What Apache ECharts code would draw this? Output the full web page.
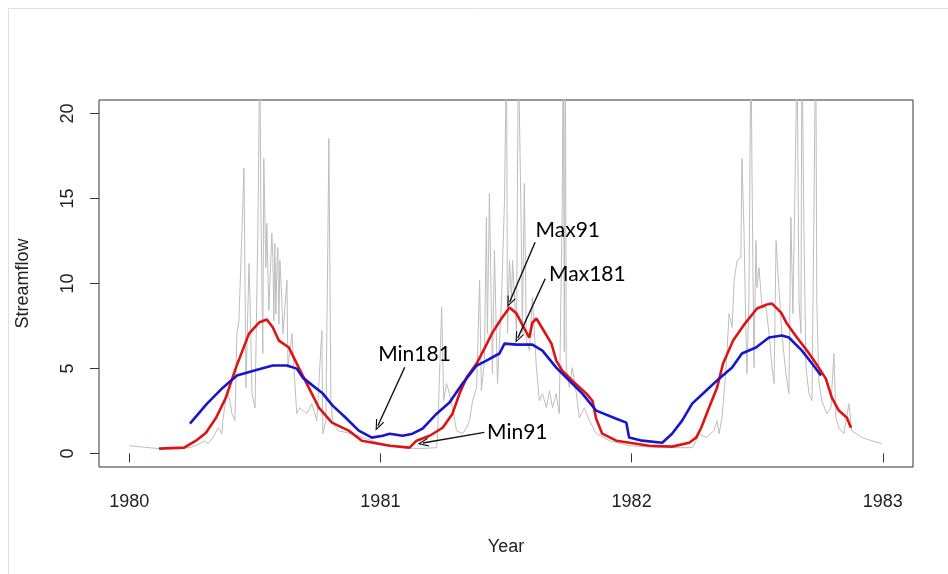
<!DOCTYPE html>
<html><head><meta charset="utf-8">
<script src="https://cdn.jsdelivr.net/npm/echarts@6/dist/echarts.min.js"></script>
<style>html,body{margin:0;padding:0;background:#fff}#c{width:948px;height:574px}</style>
</head><body><div id="c"></div>
<script>
// ---- data ----
var xTicks = [1980, 1981, 1982, 1983];
var yTicks = [0, 5, 10, 15, 20];

var greyYear = [
1980.000,1980.119,1980.242,1980.282,1980.302,1980.314,1980.334,1980.354,1980.369,1980.373,1980.389,1980.401,1980.409,1980.421,1980.429,1980.437,1980.453,1980.457,1980.465,1980.477,1980.481,1980.489,1980.501,1980.513,1980.520,1980.524,1980.532,1980.536,1980.544,1980.548,1980.556,1980.568,1980.572,1980.576,1980.580,1980.584,1980.588,1980.592,1980.596,1980.600,1980.608,1980.612,1980.628,1980.632,1980.648,1980.667,1980.679,1980.707,1980.727,1980.747,1980.767,1980.771,1980.783,1980.791,1980.795,1980.803,1980.810,1980.830,1980.886,1980.942,1980.993,
1981.089,1981.156,1981.224,1981.228,1981.244,1981.252,1981.263,1981.275,1981.287,1981.303,1981.327,1981.343,1981.355,1981.367,1981.383,1981.395,1981.402,1981.414,1981.422,1981.426,1981.434,1981.446,1981.454,1981.466,1981.482,1981.494,1981.502,1981.506,1981.514,1981.522,1981.526,1981.542,1981.549,1981.561,1981.565,1981.573,1981.581,1981.593,1981.605,1981.621,1981.633,1981.645,1981.661,1981.673,1981.685,1981.700,1981.712,1981.724,1981.728,1981.732,1981.736,1981.740,1981.752,1981.764,1981.780,1981.792,1981.812,1981.832,1981.859,1981.911,1981.990,
1982.122,1982.241,1982.257,1982.269,1982.296,1982.328,1982.340,1982.348,1982.360,1982.376,1982.388,1982.400,1982.408,1982.420,1982.435,1982.439,1982.447,1982.455,1982.459,1982.467,1982.475,1982.479,1982.487,1982.495,1982.499,1982.507,1982.519,1982.535,1982.547,1982.559,1982.567,1982.575,1982.586,1982.598,1982.614,1982.626,1982.634,1982.642,1982.654,1982.658,1982.666,1982.674,1982.678,1982.686,1982.694,1982.706,1982.718,1982.733,1982.737,1982.745,1982.757,1982.777,1982.793,1982.805,1982.813,1982.825,1982.845,1982.865,1982.876,1982.916,1982.996];
var greyFlow = [
0.45,0.28,0.34,0.57,0.75,0.57,0.93,1.51,1.16,1.93,3.69,3.10,2.34,1.93,7.05,7.82,14.89,16.78,3.87,11.18,9.18,3.52,2.69,13.71,24,14.89,5.88,17.36,10.94,13.54,8.41,12.95,11.53,7.8,12.36,8.2,10.94,12.12,7.6,11.36,9.00,7.05,10.18,5.05,7.05,2.34,2.69,2.34,2.93,1.93,7.23,1.16,1.93,12.53,18.54,3.10,1.93,1.34,1.16,0.87,0.63,
0.34,0.28,0.34,1.16,8.59,3.10,4.11,3.52,2.69,1.34,1.16,1.51,1.93,3.10,3.87,10.18,3.69,5.46,13.89,7.05,15.30,4.70,11.95,4.11,9.00,14.89,24,7.05,11.36,9.00,11.36,7.05,24,12.95,7.05,15.89,6.64,6.05,9.18,5.05,3.10,3.52,2.69,3.69,2.69,3.52,2.34,14.89,25,6.0,25,5.05,3.87,5.05,3.52,2.10,2.69,1.93,1.16,0.75,0.45,
0.34,0.34,0.75,1.16,0.93,1.34,1.93,1.16,2.10,5.05,8.23,7.41,10.18,11.36,11.53,17.36,13.30,7.05,4.70,9.00,25,16.66,5.05,12.53,9.77,10.94,8.59,8.59,7.05,5.05,4.11,12.53,9.77,7.05,4.70,3.52,13.89,8.23,19.19,25,9.00,7.05,25,12.95,5.05,3.52,3.10,25,9.00,4.28,3.10,2.34,2.69,5.88,2.10,1.51,1.16,2.93,1.34,0.93,0.57];

var redYear = [1980.119,1980.219,1980.266,1980.306,1980.346,1980.385,1980.425,1980.477,1980.517,1980.548,1980.572,1980.596,1980.636,1980.675,1980.715,1980.755,1980.807,1980.874,1980.926,1980.993,1981.037,1981.116,1981.144,1981.196,1981.248,1981.287,1981.315,1981.343,1981.383,1981.414,1981.446,1981.482,1981.514,1981.542,1981.573,1981.593,1981.605,1981.621,1981.645,1981.681,1981.700,1981.724,1981.764,1981.820,1981.844,1981.859,1981.883,1981.939,1982.018,1982.070,1982.161,1982.229,1982.257,1982.277,1982.308,1982.340,1982.364,1982.404,1982.451,1982.499,1982.539,1982.559,1982.595,1982.618,1982.658,1982.698,1982.734,1982.773,1982.797,1982.825,1982.857,1982.873];
var redFlow = [0.28,0.34,0.75,1.22,2.10,3.28,5.05,7.05,7.70,7.88,7.41,6.64,6.23,5.05,3.87,2.69,1.81,1.34,0.75,0.57,0.45,0.34,0.75,1.04,1.51,2.34,3.52,4.46,5.29,6.17,7.11,7.94,8.59,8.23,7.35,6.82,7.70,7.94,7.35,6.46,5.46,4.87,4.28,3.52,3.10,2.04,1.16,0.75,0.57,0.45,0.40,0.63,0.93,1.51,2.69,3.87,5.29,6.64,7.64,8.53,8.76,8.82,8.29,7.64,6.82,6.05,5.29,4.40,3.28,2.52,2.10,1.51];

var blueYear = [1980.242,1980.310,1980.373,1980.429,1980.509,1980.572,1980.628,1980.667,1980.691,1980.731,1980.771,1980.810,1980.862,1980.914,1980.966,1981.009,1981.037,1981.089,1981.128,1981.168,1981.224,1981.275,1981.327,1981.383,1981.422,1981.474,1981.494,1981.542,1981.605,1981.645,1981.700,1981.752,1981.804,1981.859,1981.939,1981.979,1981.990,1982.042,1982.122,1982.161,1982.201,1982.241,1982.296,1982.348,1982.400,1982.439,1982.495,1982.547,1982.598,1982.626,1982.678,1982.718,1982.754];
var blueFlow = [1.75,2.93,3.87,4.58,4.93,5.17,5.17,4.99,4.46,3.99,3.52,2.81,2.10,1.34,0.93,1.04,1.16,1.04,1.16,1.46,2.34,2.99,4.11,5.17,5.46,5.88,6.46,6.40,6.40,6.05,5.05,4.28,3.52,2.52,2.04,1.81,0.93,0.75,0.63,1.16,1.93,2.93,3.69,4.40,5.05,5.88,6.23,6.82,6.94,6.82,6.05,5.29,4.58];

var annText   = ['Max91', 'Max181', 'Min181', 'Min91'];
var annTextX  = [1981.746, 1981.824, 1981.136, 1981.545];
var annTextY  = [13.12, 10.53, 5.82, 1.22];
var arrowFromX = [1981.616, 1981.656, 1981.097, 1981.414];
var arrowFromY = [12.43, 10.28, 5.07, 1.24];
var arrowToX   = [1981.514, 1981.547, 1980.990, 1981.169];
var arrowToY   = [8.90, 6.80, 1.63, 0.61];

// ---- build ----
function zip(a, b) { var o = []; for (var i = 0; i < Math.min(a.length, b.length); i++) o.push([a[i], b[i]]); return o; }
var arrows = [], labels = [];
for (var i = 0; i < annText.length; i++) {
  arrows.push([{ coord: [arrowFromX[i], arrowFromY[i]] }, { coord: [arrowToX[i], arrowToY[i]] }]);
  labels.push({ name: annText[i], coord: [annTextX[i], annTextY[i]] });
}
var axisTxt = '#222';
var chart = echarts.init(document.getElementById('c'), null, { renderer: 'canvas' });
chart.setOption({
  animation: false,
  backgroundColor: '#fff',
  grid: { left: 99, right: 35, top: 100, bottom: 107, show: true, borderColor: '#333', borderWidth: 1, backgroundColor: 'transparent' },
  xAxis: {
    type: 'value', min: 1979.88, max: 1983.12,
    name: 'Year', nameLocation: 'middle', nameGap: 71,
    nameTextStyle: { color: axisTxt, fontSize: 18, fontFamily: 'Liberation Sans, Arial, sans-serif' },
    axisLine: { show: false },
    axisTick: { show: true, customValues: xTicks, length: 9, lineStyle: { color: '#333', width: 1 } },
    axisLabel: { customValues: xTicks, margin: 26, color: axisTxt, fontSize: 18, fontFamily: 'Liberation Sans, Arial, sans-serif', formatter: function (v) { return String(v); } },
    splitLine: { show: false }
  },
  yAxis: {
    type: 'value', min: -0.8, max: 20.8,
    name: 'Streamflow', nameLocation: 'middle', nameGap: 67, nameRotate: 90,
    nameTextStyle: { color: axisTxt, fontSize: 18, fontFamily: 'Liberation Sans, Arial, sans-serif' },
    axisLine: { show: false },
    axisTick: { show: true, customValues: yTicks, length: 9, lineStyle: { color: '#333', width: 1 } },
    axisLabel: { customValues: yTicks, rotate: 90, margin: 22, color: axisTxt, fontSize: 18, fontFamily: 'Liberation Sans, Arial, sans-serif', formatter: function (v) { return String(v); } },
    splitLine: { show: false }
  },
  series: [
    { type: 'line', name: 'flow', data: zip(greyYear, greyFlow), showSymbol: false, symbol: 'none',
      lineStyle: { color: '#bdbdbd', width: 1 }, silent: true, z: 1 },
    { type: 'line', name: '91', data: zip(redYear, redFlow), showSymbol: false, symbol: 'none',
      lineStyle: { color: '#dd1414', width: 2.6 }, silent: true, z: 2 },
    { type: 'line', name: '181', data: zip(blueYear, blueFlow), showSymbol: false, symbol: 'none',
      lineStyle: { color: '#1616cc', width: 2.6 }, silent: true, z: 3,
      markLine: {
        silent: true, animation: false,
        symbol: ['none', 'path://M5,0 L10,12 L8.6,12 L5,3.2 L1.4,12 L0,12 Z'],
        symbolSize: [9, 11],
        lineStyle: { color: '#111', width: 1.4, type: 'solid' },
        label: { show: false },
        emphasis: { disabled: true },
        data: arrows
      },
      markPoint: {
        silent: true, animation: false,
        symbol: 'circle', symbolSize: 0,
        itemStyle: { color: 'transparent' },
        label: { show: true, position: 'inside', formatter: '{b}', color: '#000', fontSize: 21, fontFamily: 'Lato, Carlito, sans-serif' },
        data: labels
      }
    }
  ],
  graphic: [
    { type: 'line', silent: true, shape: { x1: 8.5, y1: 8.5, x2: 948, y2: 8.5 }, style: { stroke: '#e0e0e0', lineWidth: 1 } },
    { type: 'line', silent: true, shape: { x1: 8.5, y1: 8.5, x2: 8.5, y2: 574 }, style: { stroke: '#e0e0e0', lineWidth: 1 } }
  ]
});
</script>
</body></html>
